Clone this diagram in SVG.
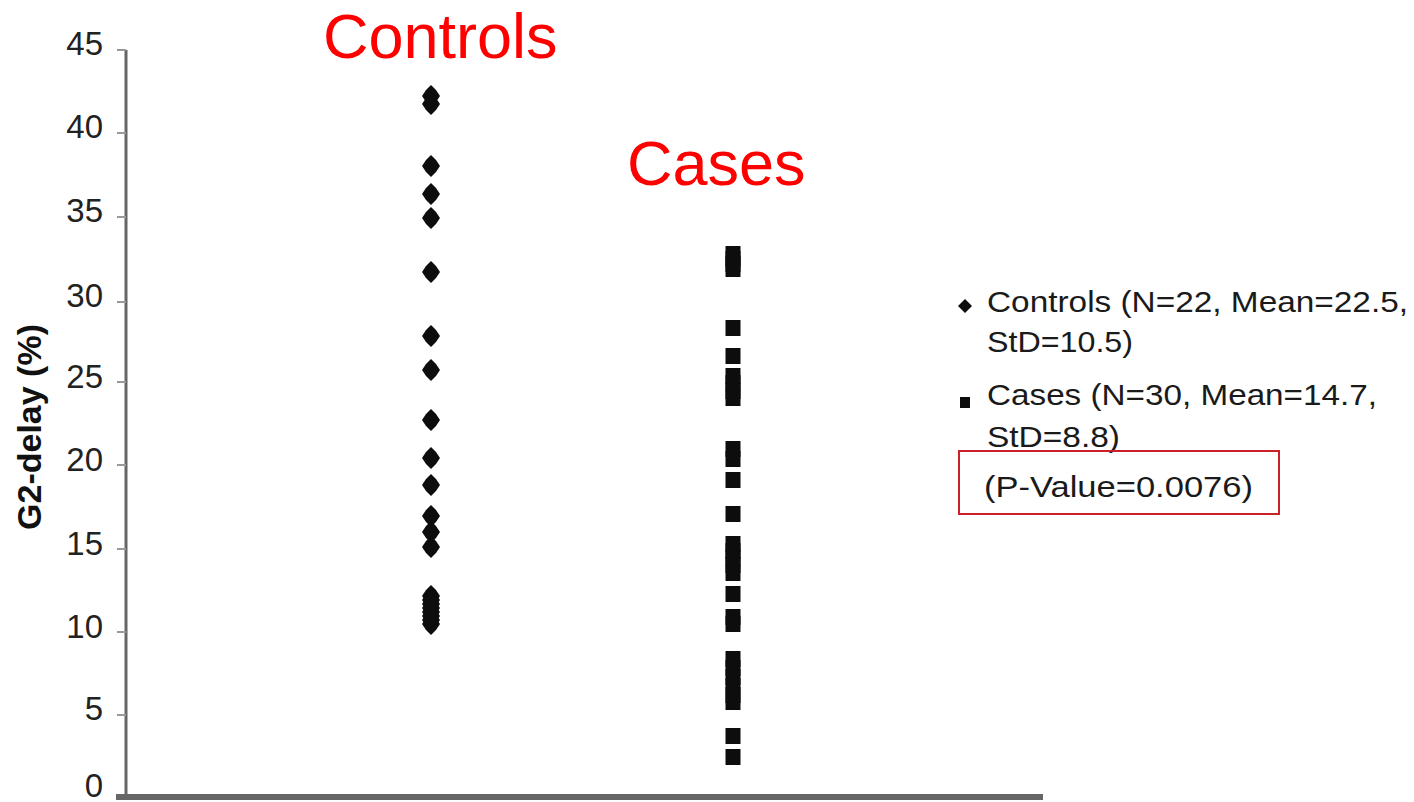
<svg xmlns="http://www.w3.org/2000/svg" xmlns:xlink="http://www.w3.org/1999/xlink" width="1414" height="802" viewBox="0 0 1414 802">
<style>
.tick{font-family:"Liberation Sans",Arial,sans-serif;font-size:33px;fill:#222;text-anchor:end}
.leg{font-family:"Liberation Sans",Arial,sans-serif;font-size:29px;fill:#1a1a1a}
.title{font-family:"Liberation Sans",Arial,sans-serif;font-size:63px;fill:#ff0000}
.ylab{font-family:"Liberation Sans",Arial,sans-serif;font-size:34px;font-weight:bold;fill:#111;text-anchor:middle}
.axis{stroke:#666;fill:none}
.tk{stroke:#999;stroke-width:2}
.pt{fill:#0d0d0d}
</style>
<defs>
<path id="star" class="pt" d="M0,-11 L5,-6 L9,0 L5,6 L0,11 L-5,6 L-9,0 L-5,-6Z"/>
<rect id="sq" class="pt" x="-7.5" y="-8" width="15" height="16"/>
</defs>
<rect width="1414" height="802" fill="#fff"/>

<g id="axes">
<line class="axis" x1="126" y1="50" x2="126" y2="797" stroke-width="3"/>
<line class="axis" x1="116" y1="797" x2="1043" y2="797" stroke-width="6"/>
<line class="tk" x1="117" y1="50" x2="126" y2="50"/>
<line class="tk" x1="117" y1="133" x2="126" y2="133"/>
<line class="tk" x1="117" y1="217" x2="126" y2="217"/>
<line class="tk" x1="117" y1="302" x2="126" y2="302"/>
<line class="tk" x1="117" y1="382" x2="126" y2="382"/>
<line class="tk" x1="117" y1="465" x2="126" y2="465"/>
<line class="tk" x1="117" y1="549" x2="126" y2="549"/>
<line class="tk" x1="117" y1="632" x2="126" y2="632"/>
<line class="tk" x1="117" y1="715" x2="126" y2="715"/>
<text class="tick" x="103" y="55">45</text>
<text class="tick" x="103" y="138">40</text>
<text class="tick" x="103" y="222">35</text>
<text class="tick" x="103" y="307">30</text>
<text class="tick" x="103" y="388">25</text>
<text class="tick" x="103" y="471">20</text>
<text class="tick" x="103" y="555">15</text>
<text class="tick" x="103" y="638">10</text>
<text class="tick" x="103" y="720">5</text>
<text class="tick" x="103" y="797">0</text>
<text class="ylab" transform="translate(41,427) rotate(-90)">G2-delay (%)</text>
</g>

<g id="titles">
<text class="title" x="323" y="58">Controls</text>
<text class="title" x="627" y="185">Cases</text>
</g>

<g id="controls">
<use xlink:href="#star" x="431" y="96"/>
<use xlink:href="#star" x="431" y="104"/>
<use xlink:href="#star" x="431" y="166"/>
<use xlink:href="#star" x="431" y="194"/>
<use xlink:href="#star" x="431" y="218"/>
<use xlink:href="#star" x="431" y="272"/>
<use xlink:href="#star" x="431" y="336"/>
<use xlink:href="#star" x="431" y="370"/>
<use xlink:href="#star" x="431" y="420"/>
<use xlink:href="#star" x="431" y="458"/>
<use xlink:href="#star" x="431" y="485"/>
<use xlink:href="#star" x="431" y="516"/>
<use xlink:href="#star" x="431" y="532"/>
<use xlink:href="#star" x="431" y="547"/>
<use xlink:href="#star" x="431" y="596"/>
<use xlink:href="#star" x="431" y="600"/>
<use xlink:href="#star" x="431" y="604"/>
<use xlink:href="#star" x="431" y="608"/>
<use xlink:href="#star" x="431" y="612"/>
<use xlink:href="#star" x="431" y="616"/>
<use xlink:href="#star" x="431" y="620"/>
<use xlink:href="#star" x="431" y="624"/>
</g>

<g id="cases">
<use xlink:href="#sq" x="733" y="254"/>
<use xlink:href="#sq" x="733" y="259"/>
<use xlink:href="#sq" x="733" y="264"/>
<use xlink:href="#sq" x="733" y="269"/>
<use xlink:href="#sq" x="733" y="328"/>
<use xlink:href="#sq" x="733" y="356"/>
<use xlink:href="#sq" x="733" y="376"/>
<use xlink:href="#sq" x="733" y="383"/>
<use xlink:href="#sq" x="733" y="391"/>
<use xlink:href="#sq" x="733" y="398"/>
<use xlink:href="#sq" x="733" y="449"/>
<use xlink:href="#sq" x="733" y="459"/>
<use xlink:href="#sq" x="733" y="480"/>
<use xlink:href="#sq" x="733" y="514"/>
<use xlink:href="#sq" x="733" y="544"/>
<use xlink:href="#sq" x="733" y="551"/>
<use xlink:href="#sq" x="733" y="558"/>
<use xlink:href="#sq" x="733" y="565"/>
<use xlink:href="#sq" x="733" y="573"/>
<use xlink:href="#sq" x="733" y="594"/>
<use xlink:href="#sq" x="733" y="617"/>
<use xlink:href="#sq" x="733" y="624"/>
<use xlink:href="#sq" x="733" y="659"/>
<use xlink:href="#sq" x="733" y="668"/>
<use xlink:href="#sq" x="733" y="677"/>
<use xlink:href="#sq" x="733" y="686"/>
<use xlink:href="#sq" x="733" y="695"/>
<use xlink:href="#sq" x="733" y="702"/>
<use xlink:href="#sq" x="733" y="736"/>
<use xlink:href="#sq" x="733" y="757"/>
</g>

<g id="legend">
<path class="pt" d="M965,299 L969,303 L972,306 L969,309 L965,313 L961,309 L958,306 L961,303Z"/>
<rect class="pt" x="960" y="397" width="10" height="11"/>
<text class="leg" x="987" y="312" textLength="421" lengthAdjust="spacingAndGlyphs">Controls (N=22, Mean=22.5,</text>
<text class="leg" x="987" y="352" textLength="146" lengthAdjust="spacingAndGlyphs">StD=10.5)</text>
<text class="leg" x="987" y="405" textLength="390" lengthAdjust="spacingAndGlyphs">Cases (N=30, Mean=14.7,</text>
<text class="leg" x="987" y="447" textLength="133" lengthAdjust="spacingAndGlyphs">StD=8.8)</text>
<text class="leg" x="984" y="497" textLength="269" lengthAdjust="spacingAndGlyphs">(P-Value=0.0076)</text>
<rect x="959" y="451" width="320" height="63" fill="none" stroke="#cc1f2a" stroke-width="2"/>
</g>
</svg>
